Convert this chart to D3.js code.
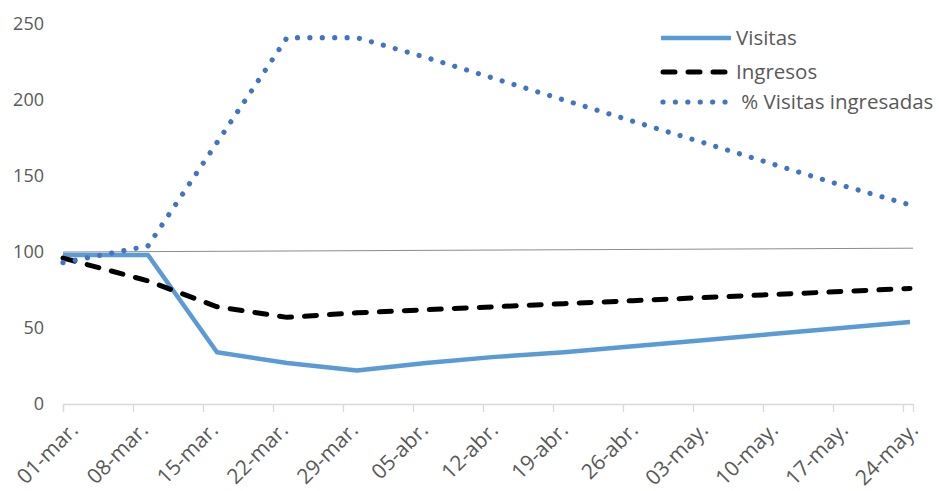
<!DOCTYPE html>
<html>
<head>
<meta charset="utf-8">
<script src="https://cdn.jsdelivr.net/npm/d3@7"></script>
<style>
  html, body { margin: 0; padding: 0; background: #fff; }
  svg { display: block; font-family: "Open Sans", "Liberation Sans", sans-serif; }
</style>
</head>
<body>
<svg id="chart" width="939" height="491"></svg>
<script>
// Days elapsed since 01-mar for each observation
const dias = [0, 8.5, 15.4, 22.4, 29.4, 36.3, 43.2, 50.1, 57.0, 64.0, 70.9, 77.8, 84.7];

// Series (index, base 100)
const visitas = [98, 98, 34, 27, 22, 27, 31, 34, 38, 42, 46, 50, 54];
const ingresos = [96, 81, 64, 57, 60, 62, 64, 66, 68, 70, 72, 74, 76];
const pctVisitasIngresadas = [93, 104, 172, 241, 241, 228, 214, 200, 186, 172, 158, 144, 131];

// Reference line around base 100
const referenciaDias = [0, 85];
const referencia = [100, 102.5];

// Axis labels
const xTickDias = [0, 7, 14, 21, 28, 35, 42, 49, 56, 63, 70, 77, 84];
const xTickLabels = ["01-mar.", "08-mar.", "15-mar.", "22-mar.", "29-mar.", "05-abr.", "12-abr.",
                     "19-abr.", "26-abr.", "03-may.", "10-may.", "17-may.", "24-may."];
const yTicks = [0, 50, 100, 150, 200, 250];

const svg = d3.select("#chart");
const x = d3.scaleLinear().domain([0, 85]).range([63, 913]);
const y = d3.scaleLinear().domain([0, 250]).range([404, 24]);

// Y labels (no axis line)
svg.append("g").selectAll("text").data(yTicks).join("text")
  .attr("x", 44).attr("y", d => y(d)).attr("dy", "0.35em")
  .attr("text-anchor", "end").attr("fill", "#595959").attr("font-size", 18)
  .text(d => d);

// X axis
const xAxis = d3.axisBottom(x)
  .tickValues(xTickDias)
  .tickSize(8)
  .tickFormat("");
const gx = svg.append("g").attr("transform", "translate(0,404)").call(xAxis);
gx.select(".domain").attr("stroke", "#D9D9D9").attr("stroke-width", 1.3);
gx.selectAll(".tick line").attr("stroke", "#D9D9D9").attr("stroke-width", 1.3);

svg.append("g").selectAll("text").data(xTickDias).join("text")
  .attr("transform", d => `translate(${x(d) + 6},${421}) rotate(-45)`)
  .attr("text-anchor", "end").attr("dy", "0.7em")
  .attr("fill", "#595959").attr("font-size", 21)
  .text((d, i) => xTickLabels[i]);

// Reference line
const refLine = d3.line().x(d => x(d[0])).y(d => y(d[1]));
svg.append("path")
  .attr("d", refLine(d3.zip(referenciaDias, referencia)))
  .attr("fill", "none").attr("stroke", "#8C8C8C").attr("stroke-width", 1);

const line = d3.line().x((d, i) => x(dias[i])).y(d => y(d));

// Visitas
svg.append("path").attr("d", line(visitas))
  .attr("fill", "none").attr("stroke", "#5B9BD5").attr("stroke-width", 4.5)
  .attr("stroke-linejoin", "round");

// Ingresos
svg.append("path").attr("d", line(ingresos))
  .attr("fill", "none").attr("stroke", "#000").attr("stroke-width", 5)
  .attr("stroke-dasharray", "12 13").attr("stroke-linecap", "round");

// % Visitas ingresadas
svg.append("path").attr("d", line(pctVisitasIngresadas))
  .attr("fill", "none").attr("stroke", "#4472C4").attr("stroke-width", 5.2)
  .attr("stroke-dasharray", "0.01 12.4").attr("stroke-linecap", "round");

// Legend
const legend = [
  { name: "Visitas", color: "#5B9BD5", dash: null, cap: "butt", w: 4.5, y: 38 },
  { name: "Ingresos", color: "#000", dash: "12 13", cap: "round", w: 5, y: 72 },
  { name: " % Visitas ingresadas", color: "#4472C4", dash: "0.01 12.4", cap: "round", w: 5.2, y: 102 }
];
const lg = svg.append("g");
legend.forEach(s => {
  lg.append("line")
    .attr("x1", s.dash ? 663 : 661).attr("x2", s.dash ? 729 : 731)
    .attr("y1", s.y).attr("y2", s.y)
    .attr("stroke", s.color).attr("stroke-width", s.w)
    .attr("stroke-linecap", s.cap)
    .attr("stroke-dasharray", s.dash);
  lg.append("text")
    .attr("x", 736).attr("y", s.y).attr("dy", "0.35em")
    .attr("fill", "#595959").attr("font-size", 20.5)
    .attr("xml:space", "preserve").style("white-space", "pre")
    .text(s.name);
});
</script>
</body>
</html>
